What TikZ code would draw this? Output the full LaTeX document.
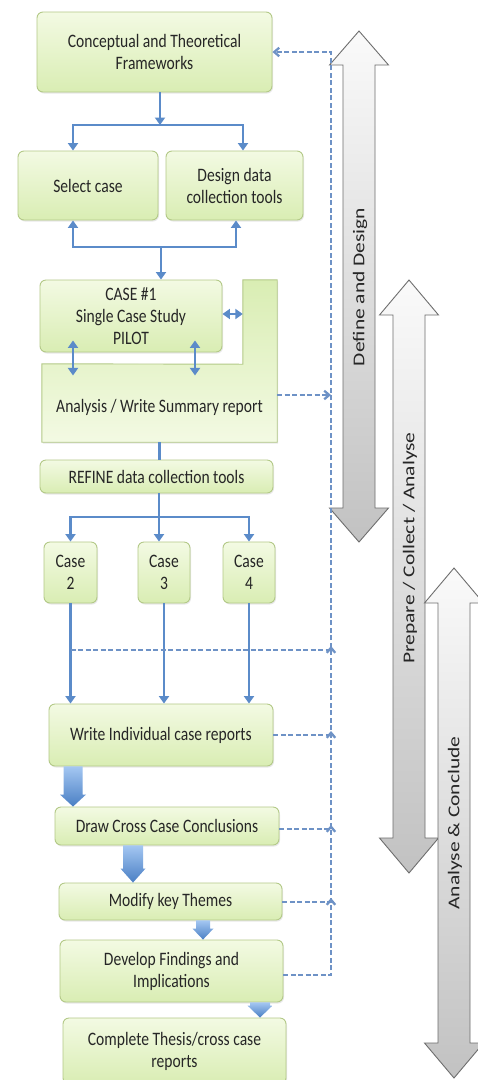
\documentclass[tikz,border=0pt]{standalone}
\usepackage{fontspec}
\setmainfont{Carlito}
\newfontfamily\boxfont[FakeStretch=0.82]{Carlito}
\newfontfamily\arrfont[FakeStretch=1.3]{Carlito}
\usetikzlibrary{arrows.meta,calc,shadows}
\definecolor{boxtop}{HTML}{F3FAE3}
\definecolor{boxbot}{HTML}{D9EDB3}
\definecolor{boxline}{HTML}{B3C987}
\definecolor{conn}{HTML}{5B8BC9}
\definecolor{dashc}{HTML}{6E92C6}
\definecolor{blktop}{HTML}{A4C7F2}
\definecolor{blkbot}{HTML}{4A7FC4}
\definecolor{txt}{HTML}{262626}
\definecolor{garrline}{HTML}{6E6E6E}
\newcommand\dblarr[4]{% cx, top tip, bottom tip, head length
  \path[garrow] (#1,#2) -- (#1+29.5,#2+#4) -- (#1+16,#2+#4) -- (#1+16,#3-#4) -- (#1+29.5,#3-#4)
    -- (#1,#3) -- (#1-29.5,#3-#4) -- (#1-16,#3-#4) -- (#1-16,#2+#4) -- (#1-29.5,#2+#4) -- cycle;}
\newcommand\blkarrow[6]{% from, to, x, shaft half, head half, head length
  \path[blk] let \p1=(#1), \p2=(#2) in
    (#3pt-#4pt,\y1) -- (#3pt+#4pt,\y1) -- (#3pt+#4pt,\y2+#6pt) -- (#3pt+#5pt,\y2+#6pt)
    -- (#3pt,\y2) -- (#3pt-#5pt,\y2+#6pt) -- (#3pt-#4pt,\y2+#6pt) -- cycle;}
\begin{document}
\begin{tikzpicture}[x=1pt,y=-1pt,
  >={Triangle[length=7.5pt,width=10pt]},
  box/.style={draw=boxline, line width=0.9pt, rounded corners=6pt, top color=boxtop, bottom color=boxbot,
    inner sep=0pt, align=center, text=txt, font=\boxfont\fontsize{19}{22}\selectfont,
    drop shadow={opacity=0.18, shadow xshift=1pt, shadow yshift=-1.5pt}},
  plain/.style={inner sep=0pt, align=center, text=txt, font=\boxfont\fontsize{19}{22}\selectfont},
  ghost/.style={inner sep=0pt},
  cn/.style={draw=conn, line width=2.7pt},
  dcn/.style={draw=dashc, line width=2.3pt, dash pattern=on 5pt off 2.5pt, -{Straight Barb[length=5pt,width=8.5pt]}},
  garrow/.style={draw=garrline, line width=0.9pt, top color=gray!4, bottom color=gray!48},
  lab/.style={rotate=90, inner sep=0pt, text=txt, font=\arrfont\fontsize{16.5}{18}\selectfont},
  blk/.style={top color=blktop, bottom color=blkbot}
]
\useasboundingbox (0,0) rectangle (478,1080);
\fill[white] (0,0) rectangle (478,1080);

% big grey phase arrows
\dblarr{359}{31}{542}{34}
\dblarr{409}{280}{873}{35}
\dblarr{454}{568}{1078}{35}
\node[lab] (lab1) at (360,287) {Define and Design};
\node[lab] (lab2) at (410,548) {Prepare / Collect / Analyse};
\node[lab] (lab3) at (455,823) {Analyse \& Conclude};

% boxes
\node[box, minimum width=235pt, minimum height=80pt] (concept) at (154.5,52) {Conceptual and Theoretical\\Frameworks};
\node[box, minimum width=140pt, minimum height=69pt] (select) at (88,185.5) {Select case};
\node[box, minimum width=137pt, minimum height=69pt] (design) at (234.5,185.5) {Design data\\collection tools};

% analysis L-shape
\node[ghost, minimum width=235pt, minimum height=78pt] (ana) at (159.5,403) {};
\node[ghost, minimum width=34pt, minimum height=84pt] (anaTop) at (260,322) {};
\path[draw=boxline, line width=0.9pt, top color=boxbot, bottom color=boxtop,
  drop shadow={opacity=0.18, shadow xshift=1pt, shadow yshift=-1.5pt}]
  (anaTop.north west) -- (anaTop.north east) -- (ana.south east) -- (ana.south west)
  -- (ana.north west) -- (anaTop.south west) -- cycle;
\node[plain] (anatxt) at ([yshift=-4pt]ana.center) {Analysis / Write Summary report};

\node[box, minimum width=182pt, minimum height=72pt] (case1) at (131,316) {CASE \#1\\Single Case Study\\PILOT};
\node[box, minimum width=233pt, minimum height=33pt] (refine) at (156.5,476.5) {REFINE data collection tools};
\node[box, minimum width=53pt, minimum height=61pt] (case2) at (70.5,572.5) {Case\\2};
\node[box, minimum width=52pt, minimum height=61pt] (case3) at (164,572.5) {Case\\3};
\node[box, minimum width=52pt, minimum height=61pt] (case4) at (249,572.5) {Case\\4};
\node[box, minimum width=224pt, minimum height=62pt] (write) at (161,735) {Write Individual case reports};
\node[box, minimum width=224pt, minimum height=38pt] (cross) at (167,826) {Draw Cross Case Conclusions};
\node[box, minimum width=223pt, minimum height=37pt] (modify) at (170.5,901.5) {Modify key Themes};
\node[box, minimum width=223pt, minimum height=62pt] (develop) at (171.5,971) {Develop Findings and\\Implications};
\node[box, minimum width=223pt, minimum height=66pt] (complete) at (174.5,1051) {Complete Thesis/cross case\\reports};

% solid connectors
\coordinate (j1) at (160,125);
\coordinate (j2) at (161,247);
\coordinate (j3) at (159,517);
\draw[cn,->] (concept.south -| j1) -- (j1);
\draw[cn,<->] ([xshift=-15pt]select.north) |- (j1) -| ([xshift=8.5pt]design.north);
\draw[cn,<->] ([xshift=-15pt]select.south) |- (j2) -| ([xshift=1.5pt]design.south);
\draw[cn,->] (j2) -- (case1.north -| j2);
\draw[cn,<->] ([yshift=2pt]case1.east) -- ([yshift=2pt]case1.east -| anaTop.west);
\draw[cn,<->] ([xshift=-58pt,yshift=12pt]case1.south) -- ([xshift=-58pt,yshift=-23pt]case1.south);
\draw[cn,<->] ([xshift=64pt,yshift=12pt]case1.south) -- ([xshift=64pt,yshift=-23pt]case1.south);
\draw[cn] (ana.south) -- (ana.south |- refine.north);
\draw[cn] (refine.south -| j3) -- (j3);
\draw[cn,<->] (case2.north) |- (j3) -| (case4.north);
\draw[cn,->] (j3) -- (case3.north -| j3);
\draw[cn,->] (case2.south) -- (case2.south |- write.north);
\draw[cn,->] (case3.south) -- (case3.south |- write.north);
\draw[cn,->] (case4.south) -- (case4.south |- write.north);

% block arrows
\blkarrow{write.south}{cross.north}{73}{9.5}{13}{12}
\blkarrow{cross.south}{modify.north}{133}{10}{12.5}{14}
\blkarrow{modify.south}{develop.north}{203}{7}{10.5}{11}
\blkarrow{develop.south}{complete.north}{260}{10}{12.5}{12}

% dashed feedback lines
\coordinate (vtop) at (331,52);
\coordinate (vhz) at (331,650);
\draw[dcn] ([yshift=-4pt]develop.east) -| (vtop) -- (concept.east);
\draw[dcn] ([yshift=8pt]ana.east) -- ([yshift=8pt]ana.east -| vtop);
\draw[dcn] (case2.south |- vhz) -- (vhz) -- ++(0,-4);
\draw[dcn] (write.east) -- (write.east -| vtop) -- ++(0,-4);
\draw[dcn] ([yshift=-3pt]cross.east) -- ([yshift=-3pt]cross.east -| vtop) -- ++(0,-4);
\draw[dcn] ([yshift=-0.5pt]modify.east) -- ([yshift=-0.5pt]modify.east -| vtop) -- ++(0,-4);
\end{tikzpicture}
\end{document}
